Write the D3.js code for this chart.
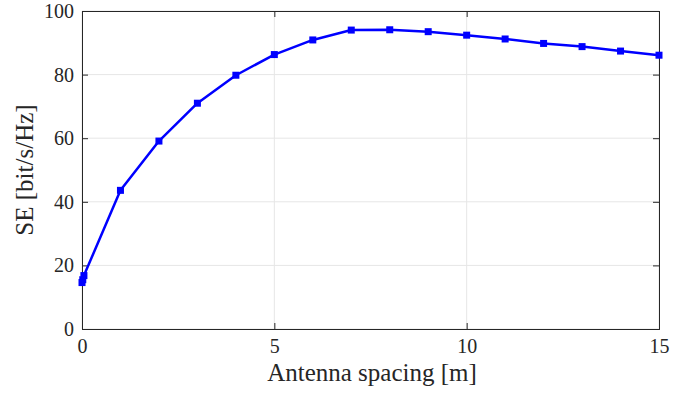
<!DOCTYPE html>
<html><head><meta charset="utf-8">
<script src="https://cdn.jsdelivr.net/npm/d3@7"></script>
<style>body{margin:0;background:#fff}svg{display:block}</style>
</head><body>
<svg id="c" width="693" height="393" font-family="serif"></svg>
<script>
const spacing = [0, 0.02, 0.05, 1, 2, 3, 4, 5, 6, 7, 8, 9, 10, 11, 12, 13, 14, 15];
const se = [14.6, 15.5, 16.8, 43.6, 59.1, 71.0, 79.8, 86.3, 90.9, 94.0, 94.1, 93.5, 92.4, 91.2, 89.8, 88.8, 87.4, 86.1];
const xTicks = [0, 5, 10, 15];
const yTicks = [0, 20, 40, 60, 80, 100];

const FONT = "serif";
const svg = d3.select("#c");
const L = 82, R = 659, T = 11, B = 329;
const x = d3.scaleLinear().domain([0, 15]).range([L, R]);
const y = d3.scaleLinear().domain([0, 100]).range([B, T]);

// grid
svg.append("g").selectAll("line").data(xTicks).join("line")
  .attr("x1", d => x(d)).attr("x2", d => x(d)).attr("y1", T).attr("y2", B)
  .attr("stroke", "#e6e6e6").attr("stroke-width", 1);
svg.append("g").selectAll("line").data(yTicks).join("line")
  .attr("y1", d => y(d)).attr("y2", d => y(d)).attr("x1", L).attr("x2", R)
  .attr("stroke", "#e6e6e6").attr("stroke-width", 1);

// axes
const xa = svg.append("g").attr("transform", `translate(0,${B})`)
  .call(d3.axisBottom(x).tickValues(xTicks).tickSize(-6).tickPadding(10).tickFormat(d3.format("d")));
const xt = svg.append("g").attr("transform", `translate(0,${T})`)
  .call(d3.axisTop(x).tickValues(xTicks).tickSize(-6).tickFormat(""));
const ya = svg.append("g").attr("transform", `translate(${L},0)`)
  .call(d3.axisLeft(y).tickValues(yTicks).tickSize(-6).tickPadding(8).tickFormat(d3.format("d")));
const yr = svg.append("g").attr("transform", `translate(${R},0)`)
  .call(d3.axisRight(y).tickValues(yTicks).tickSize(-6).tickFormat(""));
[xa, xt, ya, yr].forEach(g => {
  g.attr("font-family", FONT).attr("font-size", 20);
  g.select(".domain").attr("stroke", "#262626").attr("stroke-width", 1);
  g.selectAll(".tick line").attr("stroke", "#262626");
  g.selectAll("text").attr("font-family", FONT).attr("font-size", 20).attr("fill", "#262626");
});

// line
svg.append("path")
  .datum(spacing.map((s, i) => [s, se[i]]))
  .attr("fill", "none").attr("stroke", "#0000ff").attr("stroke-width", 2.5)
  .attr("stroke-linejoin", "round")
  .attr("d", d3.line().x(d => x(d[0])).y(d => y(d[1])));

// markers
svg.append("g").selectAll("rect").data(spacing.map((s, i) => [s, se[i]])).join("rect")
  .attr("x", d => x(d[0]) - 3.5).attr("y", d => y(d[1]) - 3.5)
  .attr("width", 7).attr("height", 7).attr("fill", "#0000ff");

// labels
svg.append("text").attr("x", 372).attr("y", 381).attr("text-anchor", "middle")
  .attr("font-family", FONT).attr("font-size", 25).attr("fill", "#262626").text("Antenna spacing [m]");
svg.append("text").attr("transform", `translate(33,${(T + B) / 2}) rotate(-90)`)
  .attr("text-anchor", "middle").attr("font-family", FONT).attr("font-size", 25).attr("fill", "#262626").text("SE [bit/s/Hz]");
</script>
</body></html>
